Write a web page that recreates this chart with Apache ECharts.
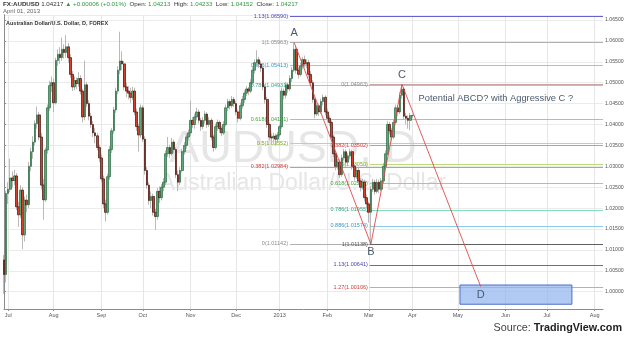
<!DOCTYPE html>
<html><head><meta charset="utf-8">
<script src="https://cdn.jsdelivr.net/npm/echarts@6/dist/echarts.min.js"></script>
<style>html,body{margin:0;padding:0;background:#fff}#c{width:625px;height:339px}</style>
</head><body><div id="c"></div>
<script>
// ---- DATA ----
const opens = [1.0076,1.0041,1.0235,1.0245,1.0272,1.0266,1.0277,1.0203,1.0184,1.0243,
1.0136,1.0219,1.0208,1.0300,1.0335,1.0358,1.0402,1.0423,1.0370,1.0255,
1.0220,1.0339,1.0440,1.0493,1.0500,1.0452,1.0553,1.0568,1.0560,1.0580,
1.0572,1.0586,1.0560,1.0520,1.0490,1.0505,1.0498,1.0510,1.0480,1.0418,
1.0495,1.0450,1.0420,1.0400,1.0380,1.0373,1.0345,1.0320,1.0270,1.0210,
1.0190,1.0275,1.0340,1.0385,1.0435,1.0480,1.0530,1.0552,1.0545,1.0490,
1.0480,1.0475,1.0465,1.0480,1.0430,1.0395,1.0375,1.0440,1.0365,1.0290,
1.0255,1.0218,1.0228,1.0190,1.0180,1.0240,1.0225,1.0250,1.0262,1.0330,
1.0345,1.0330,1.0358,1.0340,1.0280,1.0262,1.0290,1.0335,1.0350,1.0370,
1.0380,1.0410,1.0400,1.0418,1.0430,1.0410,1.0395,1.0410,1.0425,1.0400,
1.0410,1.0370,1.0345,1.0395,1.0405,1.0390,1.0380,1.0400,1.0440,1.0455,
1.0445,1.0460,1.0450,1.0430,1.0415,1.0445,1.0460,1.0475,1.0485,1.0480,
1.0500,1.0530,1.0548,1.0555,1.0545,1.0535,1.0490,1.0460,1.0400,1.0370,
1.0368,1.0372,1.0365,1.0375,1.0395,1.0480,1.0470,1.0495,1.0485,1.0510,
1.0530,1.0580,1.0530,1.0520,1.0540,1.0555,1.0545,1.0548,1.0520,1.0500,
1.0460,1.0425,1.0445,1.0430,1.0455,1.0465,1.0430,1.0415,1.0405,1.0370,
1.0330,1.0300,1.0310,1.0280,1.0320,1.0335,1.0310,1.0325,1.0335,1.0300,
1.0275,1.0290,1.0265,1.0250,1.0262,1.0225,1.0210,1.0190,1.0245,1.0262,
1.0240,1.0262,1.0245,1.0265,1.0300,1.0330,1.0400,1.0385,1.0370,1.0405,
1.0440,1.0430,1.0470,1.0485,1.0420,1.0415,1.0410,1.04213];
const closes = [1.0041,1.0235,1.0245,1.0272,1.0266,1.0277,1.0203,1.0184,1.0243,1.0136,
1.0219,1.0208,1.0300,1.0335,1.0358,1.0402,1.0423,1.0370,1.0255,1.0220,
1.0339,1.0440,1.0493,1.0500,1.0452,1.0553,1.0568,1.0560,1.0580,1.0572,
1.0586,1.0560,1.0520,1.0490,1.0505,1.0498,1.0510,1.0480,1.0418,1.0495,
1.0450,1.0420,1.0400,1.0380,1.0373,1.0345,1.0320,1.0270,1.0210,1.0190,
1.0275,1.0340,1.0385,1.0435,1.0480,1.0530,1.0552,1.0545,1.0490,1.0480,
1.0475,1.0465,1.0480,1.0430,1.0395,1.0375,1.0440,1.0365,1.0290,1.0255,
1.0218,1.0228,1.0190,1.0180,1.0240,1.0225,1.0250,1.0262,1.0330,1.0345,
1.0330,1.0358,1.0340,1.0280,1.0262,1.0290,1.0335,1.0350,1.0370,1.0380,
1.0410,1.0400,1.0418,1.0430,1.0410,1.0395,1.0410,1.0425,1.0400,1.0410,
1.0370,1.0345,1.0395,1.0405,1.0390,1.0380,1.0400,1.0440,1.0455,1.0445,
1.0460,1.0450,1.0430,1.0415,1.0445,1.0460,1.0475,1.0485,1.0480,1.0500,
1.0530,1.0548,1.0555,1.0545,1.0535,1.0490,1.0460,1.0400,1.0370,1.0368,
1.0372,1.0365,1.0375,1.0395,1.0480,1.0470,1.0495,1.0485,1.0510,1.0530,
1.0580,1.0530,1.0520,1.0540,1.0555,1.0545,1.0548,1.0520,1.0500,1.0460,
1.0425,1.0445,1.0430,1.0455,1.0465,1.0430,1.0415,1.0405,1.0370,1.0330,
1.0300,1.0310,1.0280,1.0320,1.0335,1.0310,1.0325,1.0335,1.0300,1.0275,
1.0290,1.0265,1.0250,1.0262,1.0225,1.0210,1.0190,1.0245,1.0262,1.0240,
1.0262,1.0245,1.0265,1.0300,1.0330,1.0400,1.0385,1.0370,1.0405,1.0440,
1.0430,1.0470,1.0485,1.0420,1.0415,1.0410,1.04213,1.04217];
const lows = [0.9995,1.0022,1.0210,1.0238,1.0250,1.0255,1.0195,1.0155,1.0176,1.0102,
1.0120,1.0190,1.0200,1.0288,1.0318,1.0350,1.0390,1.0362,1.0245,1.0172,
1.0215,1.0330,1.0432,1.0478,1.0430,1.0448,1.0540,1.0545,1.0552,1.0558,
1.0560,1.0548,1.0512,1.0480,1.0482,1.0485,1.0490,1.0472,1.0405,1.0410,
1.0442,1.0410,1.0392,1.0370,1.0355,1.0338,1.0310,1.0262,1.0200,1.0168,
1.0185,1.0268,1.0332,1.0378,1.0428,1.0472,1.0520,1.0530,1.0482,1.0465,
1.0460,1.0452,1.0458,1.0422,1.0385,1.0335,1.0368,1.0358,1.0280,1.0246,
1.0208,1.0200,1.0182,1.0148,1.0172,1.0212,1.0218,1.0240,1.0255,1.0322,
1.0320,1.0325,1.0332,1.0272,1.0240,1.0255,1.0285,1.0328,1.0342,1.0362,
1.0372,1.0392,1.0390,1.0410,1.0402,1.0385,1.0388,1.0402,1.0392,1.0394,
1.0362,1.0335,1.0340,1.0385,1.0380,1.0372,1.0375,1.0395,1.0432,1.0436,
1.0440,1.0442,1.0422,1.0405,1.0410,1.0438,1.0452,1.0468,1.0470,1.0475,
1.0495,1.0522,1.0540,1.0535,1.0525,1.0482,1.0450,1.0392,1.0362,1.0360,
1.0360,1.0350,1.0358,1.0370,1.0390,1.0460,1.0462,1.0476,1.0480,1.0502,
1.0525,1.0522,1.0510,1.0515,1.0532,1.0536,1.0535,1.0512,1.0492,1.0452,
1.0415,1.0420,1.0420,1.0425,1.0446,1.0422,1.0406,1.0396,1.0362,1.0322,
1.0290,1.0292,1.0272,1.0275,1.0314,1.0302,1.0305,1.0318,1.0292,1.0266,
1.0270,1.0256,1.0240,1.0244,1.0216,1.0200,1.0165,1.01138,1.0238,1.0232,
1.0235,1.0236,1.0240,1.0258,1.0294,1.0325,1.0376,1.0362,1.0365,1.0398,
1.0420,1.0425,1.0462,1.0412,1.0400,1.0390,1.0386,1.04152];
const highs = [1.0088,1.0242,1.0262,1.0318,1.0288,1.0292,1.0284,1.0215,1.0255,1.0250,
1.0228,1.0232,1.0310,1.0345,1.0372,1.0410,1.0443,1.0430,1.0380,1.0270,
1.0345,1.0448,1.0505,1.0515,1.0510,1.0560,1.0580,1.0585,1.0608,1.0592,
1.0614,1.0595,1.0568,1.0528,1.0515,1.0512,1.0525,1.0518,1.0485,1.0553,
1.0502,1.0458,1.0428,1.0408,1.0392,1.0380,1.0352,1.0328,1.0278,1.0220,
1.0282,1.0348,1.0392,1.0442,1.0488,1.0540,1.0622,1.0575,1.0552,1.0500,
1.0492,1.0488,1.0490,1.0488,1.0438,1.0402,1.0448,1.0446,1.0372,1.0298,
1.0262,1.0240,1.0235,1.0198,1.0248,1.0252,1.0258,1.0272,1.0338,1.0370,
1.0352,1.0368,1.0364,1.0345,1.0290,1.0298,1.0342,1.0358,1.0378,1.0388,
1.0457,1.0418,1.0426,1.0440,1.0436,1.0416,1.0418,1.0432,1.0430,1.0418,
1.0415,1.0376,1.0402,1.0412,1.0410,1.0396,1.0408,1.0448,1.0462,1.0460,
1.0468,1.0466,1.0456,1.0436,1.0452,1.0468,1.0482,1.0492,1.0490,1.0508,
1.0538,1.0556,1.0578,1.0562,1.0552,1.0540,1.0496,1.0466,1.0405,1.0378,
1.0380,1.0378,1.0382,1.0400,1.0488,1.0486,1.0502,1.0500,1.0518,1.0538,
1.05963,1.0588,1.0538,1.0548,1.0562,1.0565,1.0556,1.0555,1.0528,1.0506,
1.0466,1.0452,1.0450,1.0462,1.0472,1.0470,1.0438,1.0422,1.0410,1.0375,
1.0336,1.0318,1.0316,1.0328,1.0342,1.0340,1.0332,1.0342,1.0340,1.0305,
1.0298,1.0296,1.0272,1.0270,1.0268,1.0232,1.0215,1.0252,1.0270,1.0268,
1.0270,1.0268,1.0272,1.0308,1.0338,1.0408,1.0406,1.0392,1.0412,1.0448,
1.0446,1.0478,1.04963,1.0490,1.0428,1.0422,1.0428,1.04233];
const firstDay = '2012-06-28';
const lastDay = '2013-08-07';
const monthNames = ['Jan','Feb','Mar','Apr','May','Jun','Jul','Aug','Sep','Oct','Nov','Dec'];
// Fibonacci set 1 (B -> A) and set 2 (C -> B)
const fib1Levels = [0, 0.382, 0.5, 0.618, 0.786, 0.886, 1, 1.13];
const fib1Values = [1.01142, 1.02984, 1.03552, 1.04121, 1.04931, 1.05413, 1.05963, 1.06590];
const fib2Levels = [0, 0.382, 0.5, 0.618, 0.786, 0.886, 1, 1.13, 1.27];
const fib2Values = [1.04963, 1.03502, 1.03050, 1.02598, 1.01955, 1.01574, 1.01138, 1.00641, 1.00106];
// ABCD pattern points: [bar index, price]
const abcdNames = ['A','B','C','D'];
const abcdPoints = [[140, 1.05963], [177, 1.01138], [192, 1.04963], [230, 1.0012]];
const zoneD = [[220, 1.0016], [274, 0.9970]];
const lastPrice = 1.04217;

// ---- STYLES ----
const fib1Start = 138, fib2Start = 176.5, fibEnd = 289;
const fib1Styles = [['#b0b0b0','#8a8a8a'],['#e98b8b','#cc3b3b'],['#bcdc7c','#82a828'],['#8fd48f','#3fa63f'],['#84dcbc','#2fa67e'],['#8ccbec','#3a96c8'],['#b0b0b0','#8a8a8a'],['#6464cc','#4444b4']];
const fib2Styles = [['#c9a4a4','#8a8a8a'],['#e98b8b','#cc3b3b'],['#bcdc7c','#82a828'],['#8fd48f','#3fa63f'],['#84dcbc','#2fa67e'],['#8ccbec','#3a96c8'],['#606060','#505050'],['#6464cc','#4444b4'],['#ea9a9a','#cc3b3b']];

const dates = [];
for (let d = new Date(firstDay + 'T00:00:00Z'); d <= new Date(lastDay + 'T00:00:00Z'); d.setUTCDate(d.getUTCDate() + 1)) {
  const w = d.getUTCDay(); if (w > 0 && w < 6) dates.push(d.toISOString().slice(0, 10));
}
const monthStart = (i) => i > 0 && dates[i].slice(5, 7) !== dates[i - 1].slice(5, 7);

const wickData = opens.map((o, i) => [o, closes[i], lows[i], highs[i]]);
const bodyData = opens.map((o, i) => [o, closes[i], Math.min(o, closes[i]), Math.max(o, closes[i])]);

function fibLines(levels, values, start, styles) {
  return levels.map((lv, i) => [
    { coord: [start, values[i]], lineStyle: { color: styles[i][0], width: 1, type: 'solid' },
      label: { show: true, position: 'start', distance: 2, color: styles[i][1], fontSize: 5.5,
               formatter: lv + '(' + values[i].toFixed(5) + ')' } },
    { coord: [fibEnd, values[i]] }
  ]);
}

const FONT = '"Liberation Sans", Arial, sans-serif';
const chart = echarts.init(document.getElementById('c'), null, { renderer: 'canvas' });
chart.setOption({
  animation: false,
  backgroundColor: '#fff',
  textStyle: { fontFamily: FONT },
  grid: { left: 4, right: 22, top: 15, bottom: 30, containLabel: false, outerBoundsMode: 'none' },
  xAxis: [{
    type: 'category', data: dates, boundaryGap: false,
    axisLine: { lineStyle: { color: '#8c8c8c', width: 1 } },
    axisTick: { show: true, interval: monthStart, length: 2, lineStyle: { color: '#8c8c8c' } },
    axisLabel: { interval: monthStart, fontSize: 5.5, color: '#555', margin: 3,
      formatter: (v) => { const m = +v.slice(5, 7); return m === 1 ? v.slice(0, 4) : monthNames[m - 1]; } },
    splitLine: { show: true, interval: monthStart, lineStyle: { color: '#e6e6e6', width: 1 } }
  }, {
    type: 'value', min: 0, max: dates.length - 1, show: false
  }],
  yAxis: [{
    type: 'value', position: 'right', min: 0.99586, max: 1.0662, splitNumber: 14, scale: true,
    axisLine: { show: true, lineStyle: { color: '#8c8c8c' } },
    axisTick: { show: true, length: 2, lineStyle: { color: '#8c8c8c' } },
    axisLabel: { fontSize: 5.2, color: '#555', margin: 2, showMinLabel: false, showMaxLabel: false,
      formatter: (v) => v.toFixed(5) },
    splitLine: { show: true, lineStyle: { color: '#ebebeb', width: 1 } }
  }, {
    type: 'value', position: 'left', min: 0.99586, max: 1.0662,
    axisLine: { show: true, lineStyle: { color: '#8c8c8c' } },
    axisTick: { show: false }, axisLabel: { show: false }, splitLine: { show: false }
  }],
  graphic: [
    { type: 'text', z: 0, silent: true, style: { x: 293, y: 150, text: 'AUDUSD, D', fill: '#e6e6e6',
      font: '45px ' + FONT, textAlign: 'center', textVerticalAlign: 'middle' } },
    { type: 'text', z: 0, silent: true, style: { x: 303, y: 184, text: 'Australian Dollar/U.S. Dollar', fill: '#e6e6e6',
      font: '23px ' + FONT, textAlign: 'center', textVerticalAlign: 'middle' } },
    { type: 'text', z: 100, style: { x: 3, y: 1, fontSize: 6.2, fontFamily: FONT,
      text: '{b|FX:AUDUSD} {n|1.04217} {g|▲ +0.00006 (+0.01%)}  {n|Open:} {g|1.04213}  {n|High:} {g|1.04233}  {n|Low:} {g|1.04152}  {n|Close:} {g|1.04217}',
      rich: { b: { fill: '#333', fontWeight: 'bold', fontSize: 6.2 }, n: { fill: '#333', fontSize: 6.2 }, g: { fill: '#2e9a40', fontSize: 6.2 } } } },
    { type: 'text', z: 100, style: { x: 3, y: 8.5, text: 'April 01, 2013', fill: '#666', font: '6px ' + FONT } },
    { type: 'text', z: 100, style: { x: 6, y: 20.5, text: 'Australian Dollar/U.S. Dollar, D, FOREX', fill: '#333', font: 'bold 5.5px ' + FONT } },
    { type: 'text', z: 100, style: { x: 622, y: 328, textAlign: 'right', textVerticalAlign: 'middle',
      text: '{a|Source: }{b|TradingView.com}',
      rich: { a: { fill: '#444', fontSize: 10.8, fontFamily: FONT },
              b: { fill: '#222', fontSize: 10.8, fontWeight: 'bold', fontFamily: FONT } } } }
  ],
  series: [
    { name: 'fib', type: 'line', xAxisIndex: 1, yAxisIndex: 0, data: [], z: 1, silent: true,
      markLine: { silent: true, z: 1, symbol: ['none', 'none'], animation: false,
        data: fibLines(fib1Levels, fib1Values, fib1Start, fib1Styles).concat(fibLines(fib2Levels, fib2Values, fib2Start, fib2Styles)) } },
    { name: 'wick', type: 'candlestick', xAxisIndex: 0, yAxisIndex: 0, data: wickData, z: 2, silent: true,
      barWidth: 0.3,
      itemStyle: { color: '#a4a4a4', color0: '#a4a4a4', borderColor: '#a8a8a8', borderColor0: '#a8a8a8', borderWidth: 0.8 } },
    { name: 'body', type: 'candlestick', xAxisIndex: 0, yAxisIndex: 0, data: bodyData, z: 3, silent: true,
      barWidth: 2.1,
      itemStyle: { color: '#5aa878', color0: '#d4402b', borderColor: '#2c6a42', borderColor0: '#3e120b', borderWidth: 0.7 },
      markLine: { silent: true, symbol: ['none', 'none'], z: 6,
        lineStyle: { opacity: 0, width: 0 },
        data: [{ yAxis: lastPrice }],
        label: { show: true, position: 'end', distance: 1, formatter: lastPrice.toFixed(5), color: '#fff',
          backgroundColor: '#3d8c5c', fontSize: 5, padding: [1, 2, 1, 2] } } },
    { name: 'abcd', type: 'line', xAxisIndex: 1, yAxisIndex: 0, z: 5, silent: true,
      symbol: 'circle', symbolSize: 0.1, itemStyle: { color: 'rgba(0,0,0,0)' },
      lineStyle: { color: '#e04a4a', width: 0.9 },
      data: abcdPoints.map((p, i) => ({ value: p, label: { show: true, formatter: abcdNames[i],
        position: (i % 2 === 0 && i < 3) ? 'top' : 'bottom', distance: i === 3 ? 3 : (i === 1 ? 2 : 4),
        color: '#4c5a6c', fontSize: 11 } })),
      markArea: { silent: true, z: 4,
        itemStyle: { color: 'rgba(145,182,240,0.72)', borderColor: '#4d6fc6', borderWidth: 1 },
        data: [[{ coord: zoneD[0] }, { coord: zoneD[1] }]] },
      markPoint: { silent: true, symbol: 'circle', symbolSize: 0.1, itemStyle: { color: 'rgba(0,0,0,0)' },
        data: [{ coord: [200, 1.0463], label: { show: true, position: 'right', distance: 0,
          formatter: 'Potential ABCD? with Aggressive C ?', color: '#4c5a6c', fontSize: 9.3 } }] } }
  ]
});
</script>
</body></html>
